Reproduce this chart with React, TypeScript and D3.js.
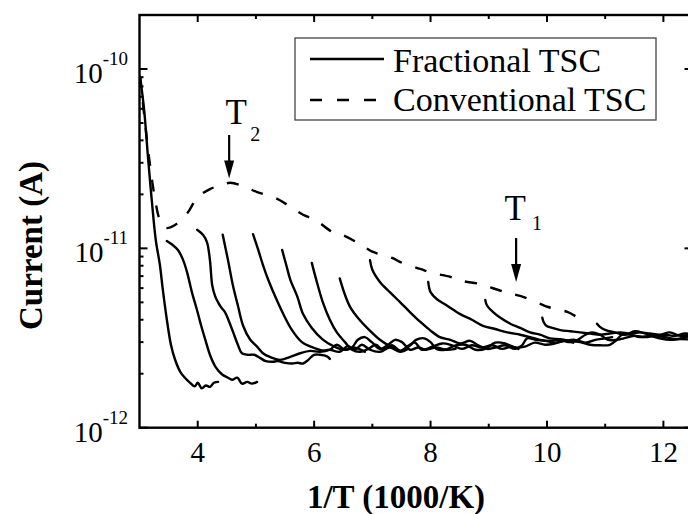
import React from "react";
import * as d3 from "d3";

// ---------- data (x = 1/T in 1000/K, y = current in A) ----------
const conventional: [number, number][] = [
  [3.01, 9.1e-11], [3.09, 5.2e-11], [3.18, 2.92e-11], [3.27, 1.86e-11], [3.35, 1.44e-11],
  [3.45, 1.3e-11], [3.61, 1.35e-11], [3.82, 1.57e-11], [3.99, 1.91e-11], [4.21, 2.14e-11],
  [4.42, 2.26e-11], [4.56, 2.32e-11], [4.81, 2.2e-11], [5.02, 2.06e-11], [5.33, 1.91e-11],
  [5.54, 1.75e-11], [5.81, 1.54e-11], [6.02, 1.44e-11], [6.32, 1.23e-11], [6.53, 1.17e-11],
  [6.82, 1.04e-11], [7.01, 9.55e-12], [7.34, 8.84e-12], [7.51, 8.3e-12], [7.82, 7.68e-12],
  [8.03, 7.29e-12], [8.34, 6.93e-12], [8.54, 6.58e-12], [8.85, 6.33e-12], [9.06, 6.01e-12],
  [9.33, 5.64e-12], [9.54, 5.43e-12], [9.85, 4.96e-12], [10.02, 4.71e-12], [10.35, 4.42e-12],
  [10.54, 4.09e-12],
];

const frac1: [number, number][] = [
  [3.01, 9.1e-11], [3.08, 5.9e-11], [3.15, 3.1e-11], [3.21, 1.87e-11], [3.28, 1.11e-11],
  [3.35, 8.1e-12], [3.4, 5.9e-12], [3.47, 4.0e-12], [3.54, 2.9e-12], [3.61, 2.4e-12],
  [3.7, 2.05e-12], [3.78, 1.9e-12], [3.87, 1.78e-12], [3.95, 1.7e-12], [4.0, 1.78e-12],
  [4.07, 1.66e-12], [4.14, 1.72e-12], [4.21, 1.69e-12], [4.28, 1.78e-12], [4.35, 1.8e-12],
];
const frac2: [number, number][] = [
  [3.47, 1.1e-11], [3.56, 1.05e-11], [3.66, 9.8e-12], [3.75, 8.6e-12], [3.82, 7.3e-12],
  [3.9, 5.7e-12], [3.99, 4.5e-12], [4.06, 3.7e-12], [4.13, 3.1e-12], [4.21, 2.55e-12],
  [4.3, 2.2e-12], [4.42, 1.98e-12], [4.52, 1.9e-12], [4.59, 1.85e-12], [4.68, 1.9e-12],
  [4.76, 1.76e-12], [4.85, 1.8e-12], [4.93, 1.76e-12], [5.02, 1.8e-12],
];
const frac3: [number, number][] = [
  [3.99, 1.27e-11], [4.09, 1.19e-11], [4.16, 1.08e-11], [4.21, 8.6e-12], [4.25, 6.2e-12],
  [4.3, 5.4e-12], [4.35, 5.0e-12], [4.4, 4.7e-12], [4.47, 4.4e-12], [4.54, 3.9e-12],
  [4.61, 3.4e-12], [4.69, 2.9e-12], [4.76, 2.6e-12], [4.86, 2.55e-12], [4.97, 2.55e-12],
  [5.07, 2.45e-12], [5.17, 2.35e-12], [5.28, 2.33e-12], [5.38, 2.35e-12], [5.5, 2.3e-12],
  [5.62, 2.28e-12], [5.72, 2.3e-12], [5.81, 2.28e-12], [5.9, 2.39e-12], [6.0, 2.55e-12],
  [6.1, 2.55e-12], [6.22, 2.5e-12], [6.27, 2.42e-12],
];
const frac4: [number, number][] = [
  [4.43, 1.19e-11], [4.52, 8.6e-12], [4.61, 6.1e-12], [4.69, 4.8e-12], [4.78, 3.7e-12],
  [4.9, 3.1e-12], [5.02, 2.83e-12], [5.12, 2.6e-12], [5.24, 2.48e-12], [5.41, 2.39e-12],
  [5.59, 2.48e-12], [5.76, 2.6e-12], [5.93, 2.68e-12], [6.1, 2.65e-12], [6.27, 2.72e-12],
  [6.39, 2.9e-12], [6.53, 2.72e-12], [6.7, 2.79e-12], [6.87, 2.65e-12],
];
const frac5: [number, number][] = [
  [4.95, 1.2e-11], [5.04, 9.8e-12], [5.12, 8.1e-12], [5.21, 6.7e-12], [5.33, 5.4e-12],
  [5.47, 4.3e-12], [5.62, 3.5e-12], [5.79, 3.0e-12], [5.98, 2.8e-12], [6.14, 2.7e-12],
  [6.27, 2.72e-12], [6.44, 2.65e-12], [6.58, 2.85e-12], [6.7, 2.72e-12], [6.82, 2.9e-12],
  [6.96, 2.72e-12], [7.13, 2.65e-12], [7.3, 2.8e-12], [7.48, 2.65e-12], [7.61, 2.75e-12],
];
const frac6: [number, number][] = [
  [5.45, 9.8e-12], [5.52, 8.1e-12], [5.59, 6.7e-12], [5.71, 5.4e-12], [5.81, 4.3e-12],
  [5.96, 3.6e-12], [6.15, 3.1e-12], [6.33, 2.85e-12], [6.5, 2.72e-12], [6.65, 2.8e-12],
  [6.75, 3.09e-12], [6.87, 3.2e-12], [6.99, 3.0e-12], [7.13, 2.75e-12], [7.27, 2.9e-12],
  [7.39, 3.09e-12], [7.51, 3.0e-12], [7.65, 2.72e-12], [7.79, 2.8e-12], [7.92, 2.72e-12],
  [8.09, 2.8e-12], [8.27, 2.72e-12], [8.43, 2.75e-12],
];
const frac7: [number, number][] = [
  [5.96, 8.3e-12], [6.03, 6.8e-12], [6.15, 5.0e-12], [6.27, 4.0e-12], [6.39, 3.4e-12],
  [6.53, 3.0e-12], [6.65, 2.72e-12], [6.79, 2.65e-12], [6.93, 2.75e-12], [7.06, 2.9e-12],
  [7.18, 2.72e-12], [7.34, 2.88e-12], [7.48, 2.68e-12], [7.61, 2.85e-12], [7.73, 2.98e-12],
  [7.85, 2.72e-12], [8.03, 2.83e-12], [8.2, 2.95e-12], [8.37, 2.88e-12], [8.54, 2.75e-12],
  [8.71, 2.88e-12], [8.88, 2.8e-12], [9.06, 2.88e-12], [9.23, 2.75e-12], [9.4, 2.83e-12],
  [9.51, 2.75e-12],
];
const frac8: [number, number][] = [
  [6.44, 6.8e-12], [6.53, 5.5e-12], [6.62, 4.7e-12], [6.75, 4.1e-12], [6.91, 3.6e-12],
  [7.13, 3.09e-12], [7.3, 2.85e-12], [7.48, 2.68e-12], [7.65, 2.88e-12], [7.75, 3.09e-12],
  [7.89, 3.15e-12], [8.0, 3.0e-12], [8.1, 2.75e-12], [8.25, 2.72e-12], [8.43, 2.88e-12],
  [8.6, 2.9e-12], [8.77, 2.72e-12], [8.94, 2.75e-12], [9.11, 2.98e-12], [9.28, 2.95e-12],
  [9.45, 2.8e-12], [9.62, 2.83e-12], [9.79, 2.98e-12], [9.97, 2.9e-12], [10.14, 2.95e-12],
  [10.31, 3.05e-12], [10.45, 2.98e-12],
];
const frac9: [number, number][] = [
  [6.96, 8.6e-12], [7.0, 7.6e-12], [7.13, 6.5e-12], [7.3, 5.7e-12], [7.48, 5.0e-12],
  [7.65, 4.4e-12], [7.82, 3.9e-12], [7.99, 3.5e-12], [8.16, 3.2e-12], [8.34, 3.09e-12],
  [8.51, 2.95e-12], [8.68, 3.05e-12], [8.82, 2.88e-12], [8.97, 2.75e-12], [9.11, 2.8e-12],
  [9.28, 2.88e-12], [9.45, 2.75e-12], [9.57, 2.88e-12], [9.66, 3.15e-12], [9.8, 3.09e-12],
  [9.97, 3.05e-12], [10.14, 2.98e-12], [10.31, 3.05e-12], [10.48, 3.09e-12], [10.66, 2.98e-12],
  [10.83, 3.09e-12], [11.0, 3.15e-12], [11.12, 3.2e-12],
];
const frac10: [number, number][] = [
  [7.96, 6.5e-12], [8.0, 5.7e-12], [8.11, 5.2e-12], [8.28, 4.8e-12], [8.51, 4.3e-12],
  [8.71, 4.0e-12], [8.9, 3.7e-12], [9.11, 3.55e-12], [9.32, 3.4e-12], [9.54, 3.3e-12],
  [9.71, 3.2e-12], [9.88, 3.09e-12], [10.05, 3.05e-12], [10.22, 3.09e-12], [10.4, 3.0e-12],
  [10.53, 3.09e-12], [10.66, 3.3e-12], [10.77, 3.4e-12], [10.91, 3.3e-12], [11.05, 3.09e-12],
  [11.19, 3.09e-12], [11.32, 3.15e-12], [11.5, 3.25e-12], [11.69, 3.2e-12], [11.86, 3.25e-12],
  [12.03, 3.2e-12], [12.2, 3.12e-12], [12.39, 3.2e-12], [12.51, 3.25e-12],
];
const frac11: [number, number][] = [
  [8.94, 5.16e-12], [8.97, 4.8e-12], [9.08, 4.4e-12], [9.2, 4.1e-12], [9.37, 3.8e-12],
  [9.54, 3.6e-12], [9.71, 3.4e-12], [9.88, 3.3e-12], [10.05, 3.15e-12], [10.22, 3.12e-12],
  [10.4, 3.05e-12], [10.57, 3.0e-12], [10.74, 2.9e-12], [10.91, 2.88e-12], [11.08, 2.9e-12],
  [11.2, 3.09e-12], [11.29, 3.3e-12], [11.43, 3.3e-12], [11.6, 3.2e-12], [11.77, 3.25e-12],
  [11.94, 3.15e-12], [12.11, 3.09e-12], [12.29, 3.12e-12], [12.51, 3.09e-12],
];
const frac12: [number, number][] = [
  [9.92, 4.1e-12], [9.94, 3.9e-12], [9.99, 3.7e-12], [10.09, 3.6e-12], [10.23, 3.5e-12],
  [10.4, 3.45e-12], [10.57, 3.4e-12], [10.74, 3.35e-12], [10.91, 3.3e-12], [11.08, 3.35e-12],
  [11.26, 3.4e-12], [11.43, 3.35e-12], [11.6, 3.4e-12], [11.77, 3.35e-12], [11.94, 3.3e-12],
  [12.11, 3.4e-12], [12.29, 3.25e-12], [12.51, 3.35e-12],
];
const frac13: [number, number][] = [
  [10.86, 3.8e-12], [10.91, 3.65e-12], [11.01, 3.5e-12], [11.17, 3.4e-12], [11.34, 3.3e-12],
  [11.51, 3.45e-12], [11.69, 3.35e-12], [11.86, 3.25e-12], [12.03, 3.3e-12], [12.2, 3.25e-12],
  [12.37, 3.35e-12], [12.51, 3.3e-12],
];
const fractionalCurves = [frac1, frac2, frac3, frac4, frac5, frac6, frac7, frac8, frac9, frac10, frac11, frac12, frac13];

const xDomain: [number, number] = [3, 12.5];
const yDomain: [number, number] = [1e-12, 2e-10];
const xMajorTicks = [4, 6, 8, 10, 12];
const xMinorTicks = [5, 7, 9, 11];
const yMajorTicks = [1e-12, 1e-11, 1e-10];
const yMajorLabels = ["-12", "-11", "-10"];
const yMinorTicks = [2e-12, 3e-12, 4e-12, 5e-12, 6e-12, 7e-12, 8e-12, 9e-12, 2e-11, 3e-11, 4e-11, 5e-11, 6e-11, 7e-11, 8e-11, 9e-11];
const legendLabels = ["Fractional TSC", "Conventional TSC"];
// annotations: label, subscript, x position (1/T), current at arrow tip
const peaks = [
  { label: "T", sub: "2", x: 4.54, tip: 2.45e-11 },
  { label: "T", sub: "1", x: 9.47, tip: 6.5e-12 },
];

const W = 688, H = 514;
const L = 139.5, R = 692.5, T = 15, B = 427.7;
const FONT = "Liberation Serif";
// per-annotation layout (pixels): arrow top, label baseline, label dx, subscript baseline, subscript dx
const peakLayout = [
  { top: 135, tBase: 124, tdx: 7, sBase: 141, sdx: 21 },
  { top: 238, tBase: 220, tdx: -1, sBase: 230, sdx: 16 },
];

type TxtProps = {
  x?: number; y?: number; size: number; bold?: boolean; anchor?: string; transform?: string; children: React.ReactNode;
};
function Txt({ x, y, size, bold, anchor, transform, children }: TxtProps) {
  return (
    <text
      x={x}
      y={y}
      transform={transform}
      fontSize={size}
      fontFamily={FONT}
      fontWeight={bold ? "bold" : "normal"}
      textAnchor={anchor || "start"}
      fill="#000"
      style={{ fontFamily: `"${FONT}"` }}
    >
      {children}
    </text>
  );
}

export default function App() {
  const x = d3.scaleLinear().domain(xDomain).range([L, R]);
  const y = d3.scaleLog().domain(yDomain).range([B, T]);
  const line = d3.line<[number, number]>().x((d) => x(d[0])).y((d) => y(d[1])).curve(d3.curveCatmullRom.alpha(0.5));

  return (
    <svg width={W} height={H} style={{ position: "absolute", left: 0, top: 0, background: "#fff" }}>
      <defs>
        <clipPath id="plot">
          <rect x={L} y={T} width={R - L} height={B - T} />
        </clipPath>
      </defs>
      <rect x={0} y={0} width={W} height={H} fill="#fff" />
      <g clipPath="url(#plot)" fill="none" stroke="#000" strokeWidth={2.4} strokeLinejoin="round" strokeLinecap="round">
        {fractionalCurves.map((c, i) => (
          <path key={i} d={line(c) || ""} />
        ))}
        <path d={line(conventional) || ""} strokeDasharray="12,14" strokeLinecap="butt" />
      </g>

      {/* frame */}
      <rect x={L} y={T} width={R - L} height={B - T} fill="none" stroke="#000" strokeWidth={2.4} />

      {/* ticks */}
      <g stroke="#000" strokeWidth={2}>
        {xMajorTicks.map((t) => (
          <g key={"xM" + t}>
            <line x1={x(t)} x2={x(t)} y1={B} y2={B - 7} />
            <line x1={x(t)} x2={x(t)} y1={T} y2={T + 7} />
          </g>
        ))}
        {xMinorTicks.map((t) => (
          <g key={"xm" + t}>
            <line x1={x(t)} x2={x(t)} y1={B} y2={B - 4} />
            <line x1={x(t)} x2={x(t)} y1={T} y2={T + 4} />
          </g>
        ))}
        {yMajorTicks.map((t) => (
          <g key={"yM" + t}>
            <line x1={L} x2={L + 8} y1={y(t)} y2={y(t)} />
            <line x1={R} x2={R - 8} y1={y(t)} y2={y(t)} />
          </g>
        ))}
        {yMinorTicks.map((t) => (
          <g key={"ym" + t}>
            <line x1={L} x2={L + 4} y1={y(t)} y2={y(t)} />
            <line x1={R} x2={R - 4} y1={y(t)} y2={y(t)} />
          </g>
        ))}
      </g>

      {/* x tick labels */}
      {xMajorTicks.map((t) => (
        <Txt key={"xl" + t} x={x(t)} y={B + 34} size={29} anchor="middle">
          {t}
        </Txt>
      ))}
      {/* y tick labels */}
      {yMajorTicks.map((t, i) => (
        <Txt key={"yl" + t} x={128} y={y(t) + 14} size={29} anchor="end">
          <tspan>10</tspan>
          <tspan dy={-18} fontSize={19}>{yMajorLabels[i]}</tspan>
        </Txt>
      ))}

      {/* axis titles */}
      <Txt x={396} y={508} size={33} bold anchor="middle">
        1/T (1000/K)
      </Txt>
      <Txt transform={`translate(42,${(163 + 328) / 2}) rotate(-90)`} size={33} bold anchor="middle">
        Current (A)
      </Txt>

      {/* legend */}
      <rect x={295} y={38} width={361} height={82} fill="#fff" stroke="#444" strokeWidth={1.3} />
      <line x1={310} x2={384} y1={59} y2={59} stroke="#000" strokeWidth={2.4} />
      <line x1={310} x2={384} y1={100} y2={100} stroke="#000" strokeWidth={2.4} strokeDasharray="12,15" />
      <Txt x={393} y={72} size={34}>{legendLabels[0]}</Txt>
      <Txt x={393} y={111} size={34}>{legendLabels[1]}</Txt>

      {/* peak annotations */}
      {peaks.map((p, i) => {
        const px = x(p.x);
        const tip = y(p.tip);
        const lay = peakLayout[i];
        return (
          <g key={"pk" + i}>
            <line x1={px} x2={px} y1={lay.top} y2={tip - 14} stroke="#000" strokeWidth={2.2} />
            <path d={`M${px - 5},${tip - 18} L${px + 5},${tip - 18} L${px},${tip} Z`} fill="#000" />
            <Txt x={px + lay.tdx} y={lay.tBase} size={35} anchor="middle">
              {p.label}
            </Txt>
            <Txt x={px + lay.sdx} y={lay.sBase} size={20}>
              {p.sub}
            </Txt>
          </g>
        );
      })}
    </svg>
  );
}
